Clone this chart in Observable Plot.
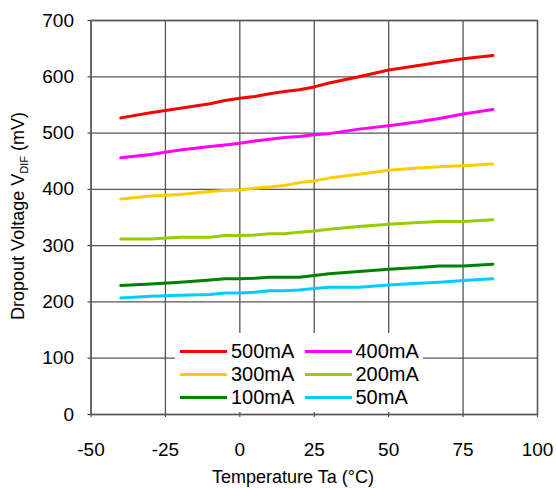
<!DOCTYPE html>
<html>
<head>
<meta charset="utf-8">
<script src="https://cdn.jsdelivr.net/npm/d3@7"></script>
<script src="https://cdn.jsdelivr.net/npm/@observablehq/plot@0.6"></script>
<style>
  body { margin: 0; background: #fff; }
  #wrap { position: relative; width: 556px; height: 488px; font-family: "Liberation Sans", Arial, sans-serif; }
  #legend { position: absolute; left: 175px; top: 333px; width: 248px; height: 79px; background: #fff; }
  .item { position: absolute; display: flex; align-items: center; height: 23px; font-size: 20px; color: #000; }
  .sw { width: 47px; height: 3px; margin-right: 4px; }
</style>
</head>
<body>
<div id="wrap"></div>
<script>
const temps = [-40, -30, -20, -10, -5, 0, 5, 10, 15, 20, 25, 30, 40, 50, 60, 67, 75, 85];
const mA500 = [527, 536, 544, 552, 558, 562, 565, 570, 574, 577, 582, 589, 600, 612, 620, 626, 632, 638];
const mA400 = [456, 462, 470, 476, 479, 482, 486, 489, 492, 494, 497, 499, 507, 513, 520, 526, 534, 542];
const mA300 = [383, 388, 391, 396, 398, 399, 402, 404, 407, 412, 415, 420, 427, 434, 438, 440, 442, 445];
const mA200 = [312, 312, 315, 315, 318, 318, 319, 321, 321, 324, 326, 329, 334, 338, 341, 343, 343, 346];
const mA100 = [229, 232, 235, 239, 241, 241, 242, 244, 244, 244, 247, 250, 254, 258, 261, 264, 264, 267];
const mA50  = [207, 210, 212, 213, 216, 216, 217, 220, 220, 221, 224, 226, 226, 230, 233, 235, 238, 241];
const seriesNames = ["500mA", "400mA", "300mA", "200mA", "100mA", "50mA"];
const seriesValues = [mA500, mA400, mA300, mA200, mA100, mA50];
const seriesColors = ["#ff0000", "#ff00ff", "#ffcc00", "#99cc00", "#008000", "#00ccff"];
const xTicks = [-50, -25, 0, 25, 50, 75, 100];
const yTicks = [0, 100, 200, 300, 400, 500, 600, 700];

const rows = [];
seriesNames.forEach((name, i) => {
  temps.forEach((t, j) => rows.push({series: name, t, v: seriesValues[i][j]}));
});

const chart = Plot.plot({
  width: 556,
  height: 488,
  marginLeft: 90.5,
  marginRight: 19,
  marginTop: 20,
  marginBottom: 74,
  style: {fontFamily: '"Liberation Sans", Arial, sans-serif', fontSize: "19px", color: "#000", background: "#fff"},
  x: {domain: [-50, 100], ticks: xTicks, tickSize: 3, tickPadding: 25, label: null, tickFormat: d => String(d)},
  y: {domain: [0, 700], ticks: yTicks, tickSize: 3, tickPadding: 14, label: null},
  color: {domain: seriesNames, range: seriesColors},
  marks: [
    Plot.ruleX(xTicks, {stroke: "#555", strokeWidth: 1.3}),
    Plot.ruleY(yTicks, {stroke: "#555", strokeWidth: 1.3}),
    Plot.frame({stroke: "#555", strokeWidth: 1.3}),
    Plot.line(rows, {x: "t", y: "v", z: "series", stroke: "series", strokeWidth: 3, strokeLinejoin: "round"})
  ]
});

const wrap = document.getElementById("wrap");
wrap.appendChild(chart);

const svg = d3.select(chart);
svg.selectAll("[aria-label='x-axis tick'], [aria-label='y-axis tick']").attr("stroke", "#333");
svg.append("text")
  .attr("x", 293).attr("y", 483)
  .attr("text-anchor", "middle")
  .attr("font-size", 18)
  .attr("fill", "#000")
  .text("Temperature Ta (°C)");
const yt = svg.append("text")
  .attr("transform", "translate(24,216) rotate(-90)")
  .attr("text-anchor", "middle")
  .attr("font-size", 18)
  .attr("fill", "#000");
yt.append("tspan").text("Dropout Voltage V");
yt.append("tspan").attr("font-size", 11).attr("dy", 4).text("DIF");
yt.append("tspan").attr("dy", -4).text(" (mV)");

const legend = document.createElement("div");
legend.id = "legend";
seriesNames.forEach((name, i) => {
  const col = i % 2, row = Math.floor(i / 2);
  const item = document.createElement("div");
  item.className = "item";
  item.style.left = (5 + col * 124.5) + "px";
  item.style.top = (7 + row * 23) + "px";
  const sw = document.createElement("div");
  sw.className = "sw";
  sw.style.background = seriesColors[i];
  const tx = document.createElement("span");
  tx.textContent = name;
  item.appendChild(sw);
  item.appendChild(tx);
  legend.appendChild(item);
});
wrap.appendChild(legend);
</script>
</body>
</html>
